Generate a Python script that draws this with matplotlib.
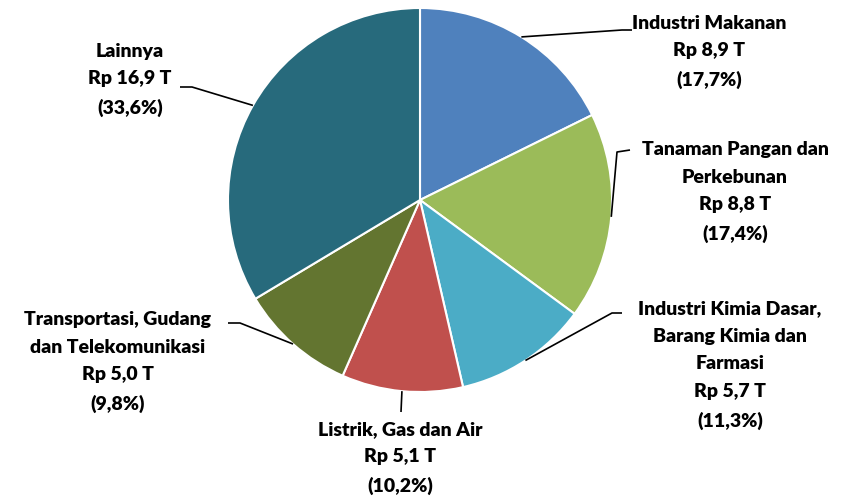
import numpy as np
import matplotlib.pyplot as plt

# sektor dan nilai (Rp triliun, persen)
sektor = ["Industri Makanan", "Tanaman Pangan dan\nPerkebunan",
          "Industri Kimia Dasar,\nBarang Kimia dan\nFarmasi", "Listrik, Gas dan Air",
          "Transportasi, Gudang\ndan Telekomunikasi", "Lainnya"]
nilai = [8.9, 8.8, 5.7, 5.1, 5.0, 16.9]
persen = [17.7, 17.4, 11.3, 10.2, 9.8, 33.6]
warna = ["#4F81BD", "#9BBB59", "#4BACC6", "#C0504D", "#637530", "#276A7C"]

W, H = 856, 497
fig = plt.figure(figsize=(W / 100, H / 100), dpi=100)
ax = fig.add_axes([0, 0, 1, 1])

cx, cy, r = 420, H - 200, 192
wedges, _ = ax.pie(persen, colors=warna, startangle=90, counterclock=False,
                   center=(cx, cy), radius=r, frame=True,
                   wedgeprops=dict(edgecolor='white', linewidth=1.5))
ax.set_xlim(0, W)
ax.set_ylim(0, H)
ax.set_aspect('equal')
ax.axis('off')

# posisi label (pixel, y dari atas): teks, siku, ujung garis
layout = [
    ((709, 52), (622, 30), (632, 30)),
    ((735, 192), (617, 152), (630, 150)),
    ((730, 365), (612, 313), (622, 313)),
    ((400, 458), (401, 412), (401, 412)),
    ((118, 362), (240, 323), (228, 323)),
    ((130, 80), (192, 87), (180, 87)),
]

for w, lab, v, p, (tpos, elbow, end) in zip(wedges, sektor, nilai, persen, layout):
    ang = np.deg2rad((w.theta1 + w.theta2) / 2)
    ex, ey = cx + r * np.cos(ang), cy + r * np.sin(ang)
    ax.plot([ex, elbow[0], end[0]], [ey, H - elbow[1], H - end[1]],
            color='black', lw=1.2, solid_capstyle='butt')
    txt = f"{lab}\nRp {v:.1f} T\n({p:.1f}%)".replace('.', ',')
    ax.text(tpos[0], H - tpos[1], txt, ha='center', va='center',
            fontsize=14, fontweight='heavy', family='Lato', linespacing=1.76)

fig.savefig('out.png', dpi=100)
